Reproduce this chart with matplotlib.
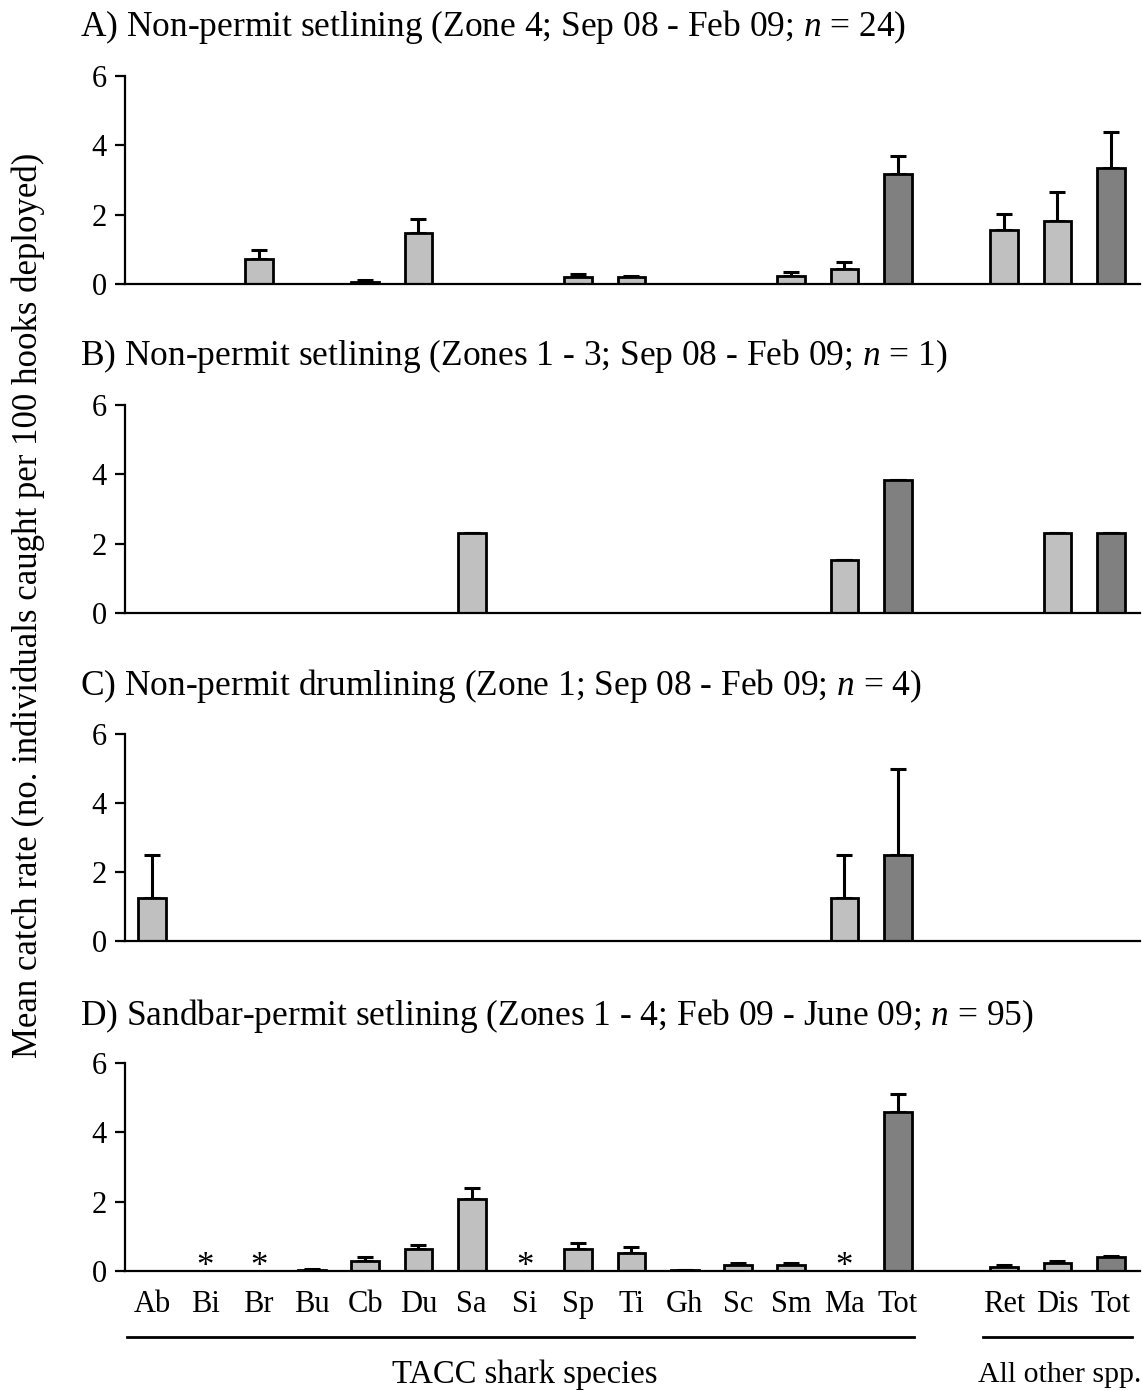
import matplotlib
matplotlib.use("Agg")
import matplotlib.pyplot as plt
import numpy as np

plt.rcParams['font.family'] = ['Liberation Serif', 'DejaVu Serif']
plt.rcParams['mathtext.fontset'] = 'custom'
plt.rcParams['mathtext.rm'] = 'Liberation Serif'
plt.rcParams['mathtext.it'] = 'Liberation Serif:italic'

# categories (15 TACC species incl. total, then 3 "all other" groups)
tacc = ["Ab", "Bi", "Br", "Bu", "Cb", "Du", "Sa", "Si", "Sp", "Ti", "Gh", "Sc", "Sm", "Ma", "Tot"]
other = ["Ret", "Dis", "Tot"]
labels = tacc + other
xpos = list(range(15)) + [16, 17, 18]
dark = [14, 17]  # index of total bars (dark grey)

titles = [
    "A) Non-permit setlining (Zone 4; Sep 08 - Feb 09; $n$ = 24)",
    "B) Non-permit setlining (Zones 1 - 3; Sep 08 - Feb 09; $n$ = 1)",
    "C) Non-permit drumlining (Zone 1; Sep 08 - Feb 09; $n$ = 4)",
    "D) Sandbar-permit setlining (Zones 1 - 4; Feb 09 - June 09; $n$ = 95)",
]

# mean catch rates and upper error (SE)
mean_a = [0, 0, 0.71, 0, 0.07, 1.46, 0, 0, 0.19, 0.19, 0, 0, 0.24, 0.44, 3.18, 1.55, 1.81, 3.35]
err_a = [0, 0, 0.27, 0, 0.04, 0.41, 0, 0, 0.10, 0.05, 0, 0, 0.10, 0.20, 0.51, 0.47, 0.85, 1.04]

mean_b = [0, 0, 0, 0, 0, 0, 2.31, 0, 0, 0, 0, 0, 0, 1.53, 3.83, 0, 2.31, 2.31]
err_b = [0] * 18

mean_c = [1.25, 0, 0, 0, 0, 0, 0, 0, 0, 0, 0, 0, 0, 1.25, 2.5, 0, 0, 0]
err_c = [1.25, 0, 0, 0, 0, 0, 0, 0, 0, 0, 0, 0, 0, 1.25, 2.5, 0, 0, 0]

mean_d = [0, 0, 0, 0.04, 0.29, 0.64, 2.08, 0, 0.64, 0.53, 0.03, 0.17, 0.17, 0, 4.6, 0.12, 0.24, 0.40]
err_d = [0, 0, 0, 0.01, 0.10, 0.11, 0.31, 0, 0.17, 0.16, 0.01, 0.07, 0.07, 0, 0.52, 0.05, 0.05, 0.04]
star_d = ["Bi", "Br", "Si", "Ma"]  # marked with asterisk

means = [mean_a, mean_b, mean_c, mean_d]
errs = [err_a, err_b, err_c, err_d]

fig = plt.figure(figsize=(11.43, 13.91), dpi=100)
H = 1391.0
bottoms = [284, 613, 941, 1271]
tops = [76, 405, 734, 1063]
title_y = [27, 356, 686, 1016]

for i in range(4):
    b = 1 - bottoms[i] / H
    h = (bottoms[i] - tops[i]) / H
    ax = fig.add_axes([0.1094, b, 0.888, h])
    cols = ["#808080" if k in dark else "#c0c0c0" for k in range(18)]
    ax.bar(xpos, means[i], width=0.52, color=cols, edgecolor="black", linewidth=2, zorder=2)
    m = np.array(means[i])
    e = np.array(errs[i])
    sel = e > 0
    if i == 1:
        sel = m > 0
    xp = np.array(xpos)
    ax.errorbar(xp[sel], m[sel], yerr=[np.zeros(sel.sum()), e[sel]], fmt="none",
                ecolor="black", elinewidth=2.2, capsize=6, capthick=2.2, zorder=1)
    ax.set_xlim(-0.51, 18.55)
    ax.set_ylim(0, 6)
    ax.set_yticks([0, 2, 4, 6])
    ax.tick_params(axis="y", labelsize=22, length=7, width=1.6, direction="out", pad=6)
    ax.spines["top"].set_visible(False)
    ax.spines["right"].set_visible(False)
    ax.spines["left"].set_linewidth(1.6)
    ax.spines["bottom"].set_linewidth(1.6)
    if i == 3:
        ax.set_xticks(xpos)
        ax.set_xticklabels(labels, fontsize=22)
        ax.tick_params(axis="x", length=0, pad=14)
        for s in star_d:
            k = labels.index(s)
            ax.text(xpos[k], -0.14, "*", ha="center", va="baseline", fontsize=25)
        trans = ax.get_xaxis_transform()
        ax.plot([-0.48, 14.3], [-0.317, -0.317], color="black", lw=2, transform=trans, clip_on=False)
        ax.plot([15.6, 18.4], [-0.317, -0.317], color="black", lw=2, transform=trans, clip_on=False)
        ax.text(7, -0.5, "TACC shark species", transform=trans, ha="center", va="center", fontsize=23.5)
        ax.text(17.05, -0.5, "All other spp.", transform=trans, ha="center", va="center", fontsize=21.5)
    else:
        ax.set_xticks([])
    fig.text(80 / 1143, 1 - title_y[i] / H, titles[i], ha="left", va="center", fontsize=25.5)

fig.text(28 / 1143, 1 - 605 / H, "Mean catch rate (no. individuals caught per 100 hooks deployed)",
         rotation=90, ha="center", va="center", fontsize=25)

fig.savefig("out.png", dpi=100)
